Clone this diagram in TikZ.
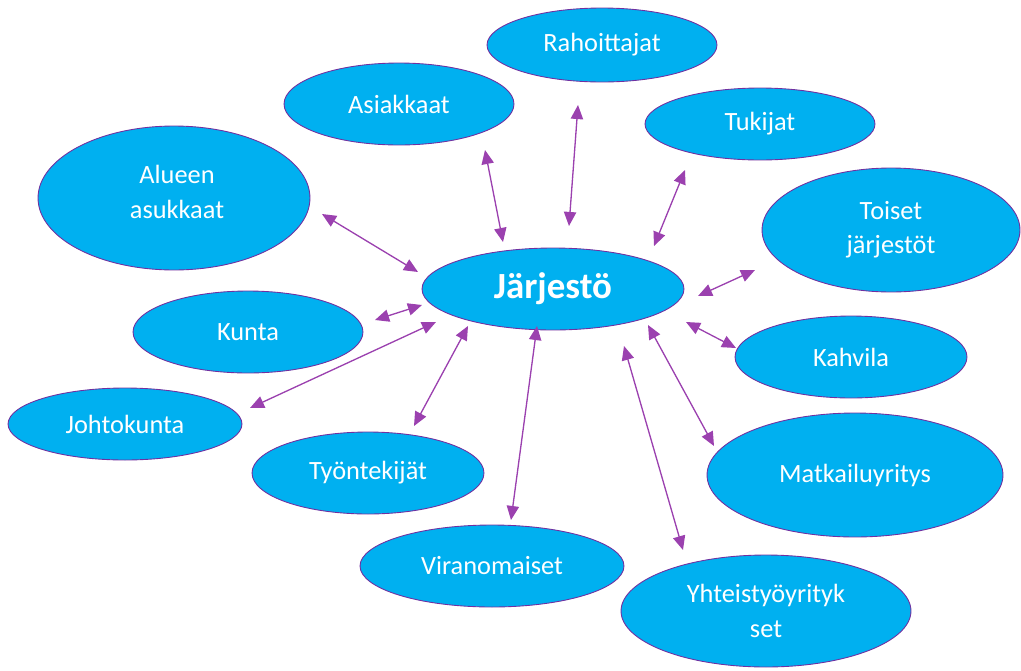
\documentclass[tikz,border=0pt]{standalone}
\usepackage{fontspec}
\setmainfont{Carlito}
\usetikzlibrary{shapes.geometric,arrows.meta}
\definecolor{bubble}{RGB}{0,176,240}
\definecolor{rim}{RGB}{112,48,160}
\definecolor{link}{RGB}{155,65,175}
\begin{document}
\begin{tikzpicture}[x=0.02cm,y=-0.02cm,
  label text/.style={text=white,align=center,font=\fontsize{15}{19.5}\selectfont},
  bubble/.style={ellipse,fill=bubble,draw=rim,line width=0.5pt,inner sep=0pt,label text},
  link/.style={{Triangle[length=8pt,width=7pt]}-{Triangle[length=8pt,width=7pt]},
    draw=link,fill=link,line width=0.75pt}]
\useasboundingbox (0,0) rectangle (1021,670);

% hub
\node[bubble,minimum width=5.24cm,minimum height=1.64cm,
  font=\bfseries\fontsize{21}{25}\selectfont] (hub) at (553,289) {Järjestö};

% stakeholders
\node[bubble,minimum width=4.6cm,minimum height=1.48cm] (rah) at (602,45) {Rahoittajat};
\node[bubble,minimum width=4.6cm,minimum height=1.64cm] (asi) at (399,104) {Asiakkaat};
\node[bubble,minimum width=4.6cm,minimum height=1.44cm] (tuk) at (760,124) {Tukijat};
\node[bubble,minimum width=5.44cm,minimum height=2.88cm] (alu) at (174,198) {};
\node[label text] (alu-text) at (177,192) {Alueen\\asukkaat};
\node[bubble,minimum width=5.16cm,minimum height=2.48cm] (toi) at (891,230) {Toiset\\järjestöt};
\node[bubble,minimum width=4.6cm,minimum height=1.64cm] (kun) at (248,332) {Kunta};
\node[bubble,minimum width=4.64cm,minimum height=1.64cm] (kah) at (851,357) {Kahvila};
\node[bubble,minimum width=4.68cm,minimum height=1.44cm] (joh) at (125,424) {Johtokunta};
\node[bubble,minimum width=4.64cm,minimum height=1.64cm] (tyo) at (368,473) {Työntekijät};
\node[bubble,minimum width=5.92cm,minimum height=2.48cm] (mat) at (855,475) {Matkailuyritys};
\node[bubble,minimum width=5.28cm,minimum height=1.64cm] (vir) at (492,566) {Viranomaiset};
\node[bubble,minimum width=5.8cm,minimum height=2.24cm] (yht) at (766,611) {Yhteistyöyrityk\\set};

% connector ends
\coordinate (alu-a) at (322,214); \coordinate (alu-b) at (418,272);
\coordinate (asi-a) at (485,150); \coordinate (asi-b) at (503,242);
\coordinate (rah-a) at (578,105); \coordinate (rah-b) at (569,226);
\coordinate (tuk-a) at (685,170); \coordinate (tuk-b) at (654,246);
\coordinate (toi-a) at (755,270); \coordinate (toi-b) at (698,296);
\coordinate (kun-a) at (375,320); \coordinate (kun-b) at (422,305);
\coordinate (kah-a) at (736,348); \coordinate (kah-b) at (686,322);
\coordinate (joh-a) at (250,408); \coordinate (joh-b) at (436,322);
\coordinate (tyo-a) at (414,426); \coordinate (tyo-b) at (468,326);
\coordinate (vir-a) at (511,520); \coordinate (vir-b) at (537,326);
\coordinate (mat-a) at (714,446); \coordinate (mat-b) at (648,325);
\coordinate (yht-a) at (683,550); \coordinate (yht-b) at (624,346);

\foreach \n in {alu,asi,rah,tuk,toi,kun,kah,joh,tyo,vir,mat,yht}
  \draw[link] (\n-a) -- (\n-b);
\end{tikzpicture}
\end{document}
